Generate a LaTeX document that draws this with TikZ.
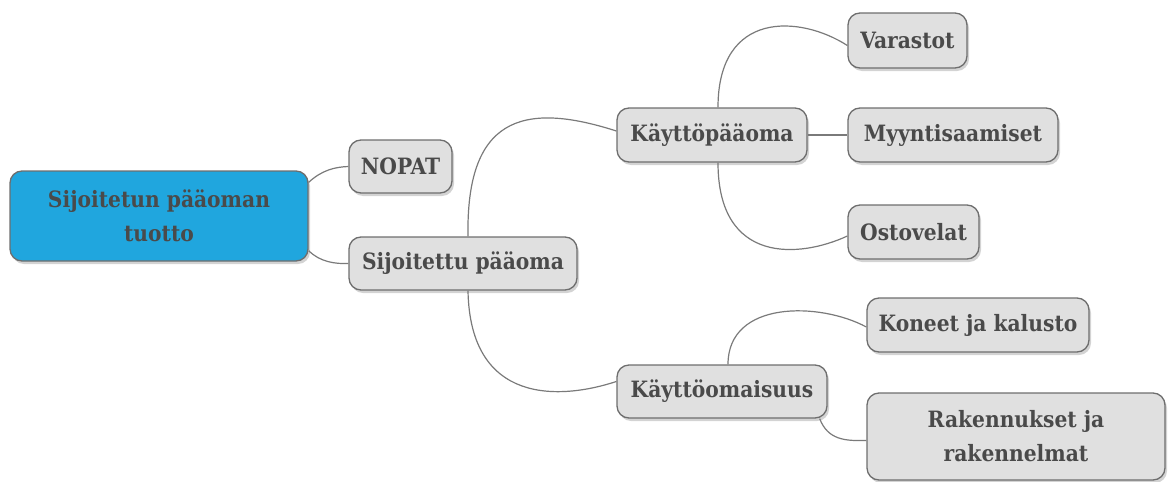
\documentclass[tikz,border=0pt]{standalone}
\usepackage{fontspec}
\newfontfamily\nf{DejaVu Serif Condensed}
\usetikzlibrary{shadows,calc}
\definecolor{boxfill}{HTML}{E0E0E0}
\definecolor{boxline}{HTML}{6E6E6E}
\definecolor{rootfill}{HTML}{20A6DE}
\definecolor{txt}{HTML}{4A4A4A}
\definecolor{conn}{HTML}{7A7A7A}
\tikzset{
  topic/.style={draw=boxline, line width=1.3pt, fill=boxfill, rounded corners=12pt,
    inner sep=0pt, align=center, text=txt, font=\nf\bfseries\fontsize{22.5}{34}\selectfont,
    drop shadow={opacity=0.35, shadow xshift=2pt, shadow yshift=-3pt}},
  rootbox/.style={topic, fill=rootfill},
  link/.style={draw=conn, line width=1.2pt}
}
\begin{document}
\begin{tikzpicture}[x=1pt,y=-1pt]
\useasboundingbox (0,0) rectangle (1168,482);
\node[rootbox, minimum width=298pt, minimum height=90pt] (root) at (159,216) {Sijoitetun pääoman\\tuotto};
\node[topic, minimum width=103pt, minimum height=53pt] (nopat) at (400.5,166.5) {NOPAT};
\node[topic, minimum width=228pt, minimum height=53pt] (sij) at (463,263.5) {Sijoitettu pääoma};
\node[topic, minimum width=190pt, minimum height=54pt] (kp) at (712,135) {Käyttöpääoma};
\node[topic, minimum width=119pt, minimum height=55pt] (var) at (907.5,40.5) {Varastot};
\node[topic, minimum width=210pt, minimum height=54pt] (myy) at (953,135) {Myyntisaamiset};
\node[topic, minimum width=131pt, minimum height=54pt] (ost) at (913.5,232) {Ostovelat};
\node[topic, minimum width=210pt, minimum height=53pt] (ko) at (722,391.5) {Käyttöomaisuus};
\node[topic, minimum width=222pt, minimum height=54pt] (kon) at (978,325) {Koneet ja kalusto};
\node[topic, minimum width=298pt, minimum height=87pt] (rak) at (1016,436.5) {Rakennukset ja\\rakennelmat};
\draw[link] ($(root.north east)+(0,12)$) .. controls (322,170) and (335,167) .. (nopat.west);
\draw[link] ($(root.south east)+(0,-11)$) .. controls (320,262) and (335,264) .. (sij.west);
\draw[link] ($(sij.north)+(5,0)$) .. controls (466,120) and (520,100) .. ($(kp.west)+(0,-4)$);
\draw[link] ($(sij.south)+(5,0)$) .. controls (470,405) and (560,400) .. ($(ko.west)+(0,-10)$);
\draw[link] ($(kp.north)+(6,0)$) .. controls (718,10) and (800,15) .. ($(var.west)+(0,5)$);
\draw[link] (kp.east) -- (myy.west);
\draw[link] ($(kp.south)+(6,0)$) .. controls (718,265) and (800,258) .. ($(ost.west)+(0,4)$);
\draw[link] ($(ko.north)+(6,0)$) .. controls (728,300) and (820,302) .. ($(kon.west)+(0,2)$);
\draw[link] ($(ko.south east)+(-8,0)$) .. controls (828,440) and (845,441) .. ($(rak.west)+(0,4)$);
\end{tikzpicture}
\end{document}
